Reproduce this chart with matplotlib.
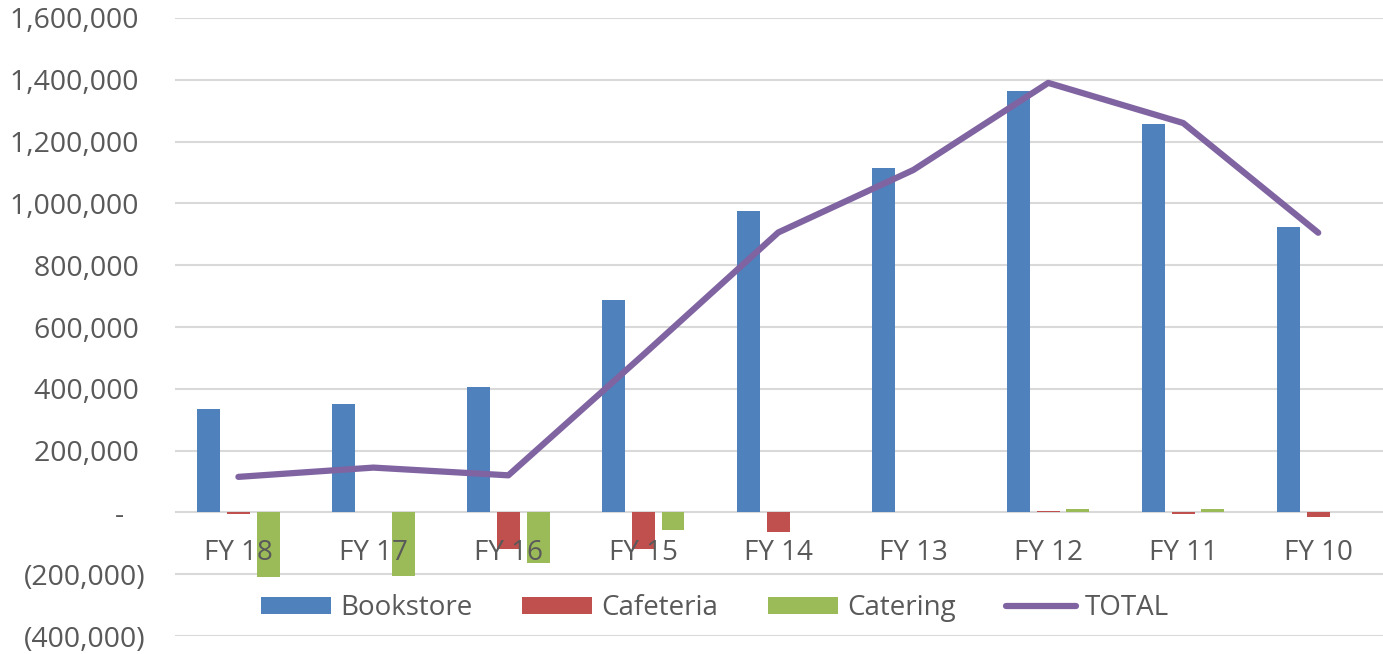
import numpy as np
import matplotlib.pyplot as plt
from matplotlib.ticker import FuncFormatter

years = ["FY 18", "FY 17", "FY 16", "FY 15", "FY 14", "FY 13", "FY 12", "FY 11", "FY 10"]
bookstore = [336000, 350000, 405000, 686000, 974000, 1113000, 1365000, 1256000, 922000]
cafeteria = [-6000, 0, -120000, -120000, -65000, 0, 5000, -5000, -15000]
catering = [-210000, -205000, -165000, -58000, 0, 0, 10000, 10000, 0]
total = [115000, 145000, 120000, 510000, 906000, 1108000, 1390000, 1260000, 905000]

plt.rcParams['font.family'] = ['Open Sans', 'DejaVu Sans']
txt = "#595959"

fig = plt.figure(figsize=(13.83, 6.54), dpi=100)
ax = fig.add_axes([0.1265, 0.0275, 0.8735, 0.945])

x = np.arange(len(years))
w = 0.17
b1 = ax.bar(x - 0.22, bookstore, w, color="#4F81BD", label="Bookstore", zorder=2)
b2 = ax.bar(x, cafeteria, w, color="#C0504D", label="Cafeteria", zorder=2)
b3 = ax.bar(x + 0.22, catering, w, color="#9BBB59", label="Catering", zorder=2)
ln, = ax.plot(x, total, color="#8064A2", lw=4.5, label="TOTAL", zorder=3,
              solid_capstyle="round")

ax.set_ylim(-400000, 1600000)
ax.set_xlim(-0.47, 8.48)
ax.set_yticks(np.arange(-400000, 1600001, 200000))


def fmt(v, pos):
    if v == 0:
        return "-   "
    if v < 0:
        return "({:,.0f})".format(-v)
    return "{:,.0f} ".format(v)


ax.yaxis.set_major_formatter(FuncFormatter(fmt))
ax.grid(axis="y", color="#D9D9D9", lw=1.5, zorder=0)
for s in ax.spines.values():
    s.set_visible(False)
ax.set_xticks([])
ax.tick_params(axis="y", length=0, pad=21, labelsize=20.5, colors=txt)

# category labels sit over the bars, just below zero
for i, lab in enumerate(years):
    ax.text(i, -130000, lab, ha="center", va="center", fontsize=20,
            color=txt, zorder=5)

ax.legend([b1, b2, b3, ln], ["Bookstore", "Cafeteria", "Catering", "TOTAL"],
          loc="center", bbox_to_anchor=(0.447, 0.045), ncol=4, frameon=False,
          fontsize=20, labelcolor=txt, handlelength=2.52, handleheight=0.61,
          columnspacing=1.8, handletextpad=0.32)

fig.savefig("out.png", dpi=100)
